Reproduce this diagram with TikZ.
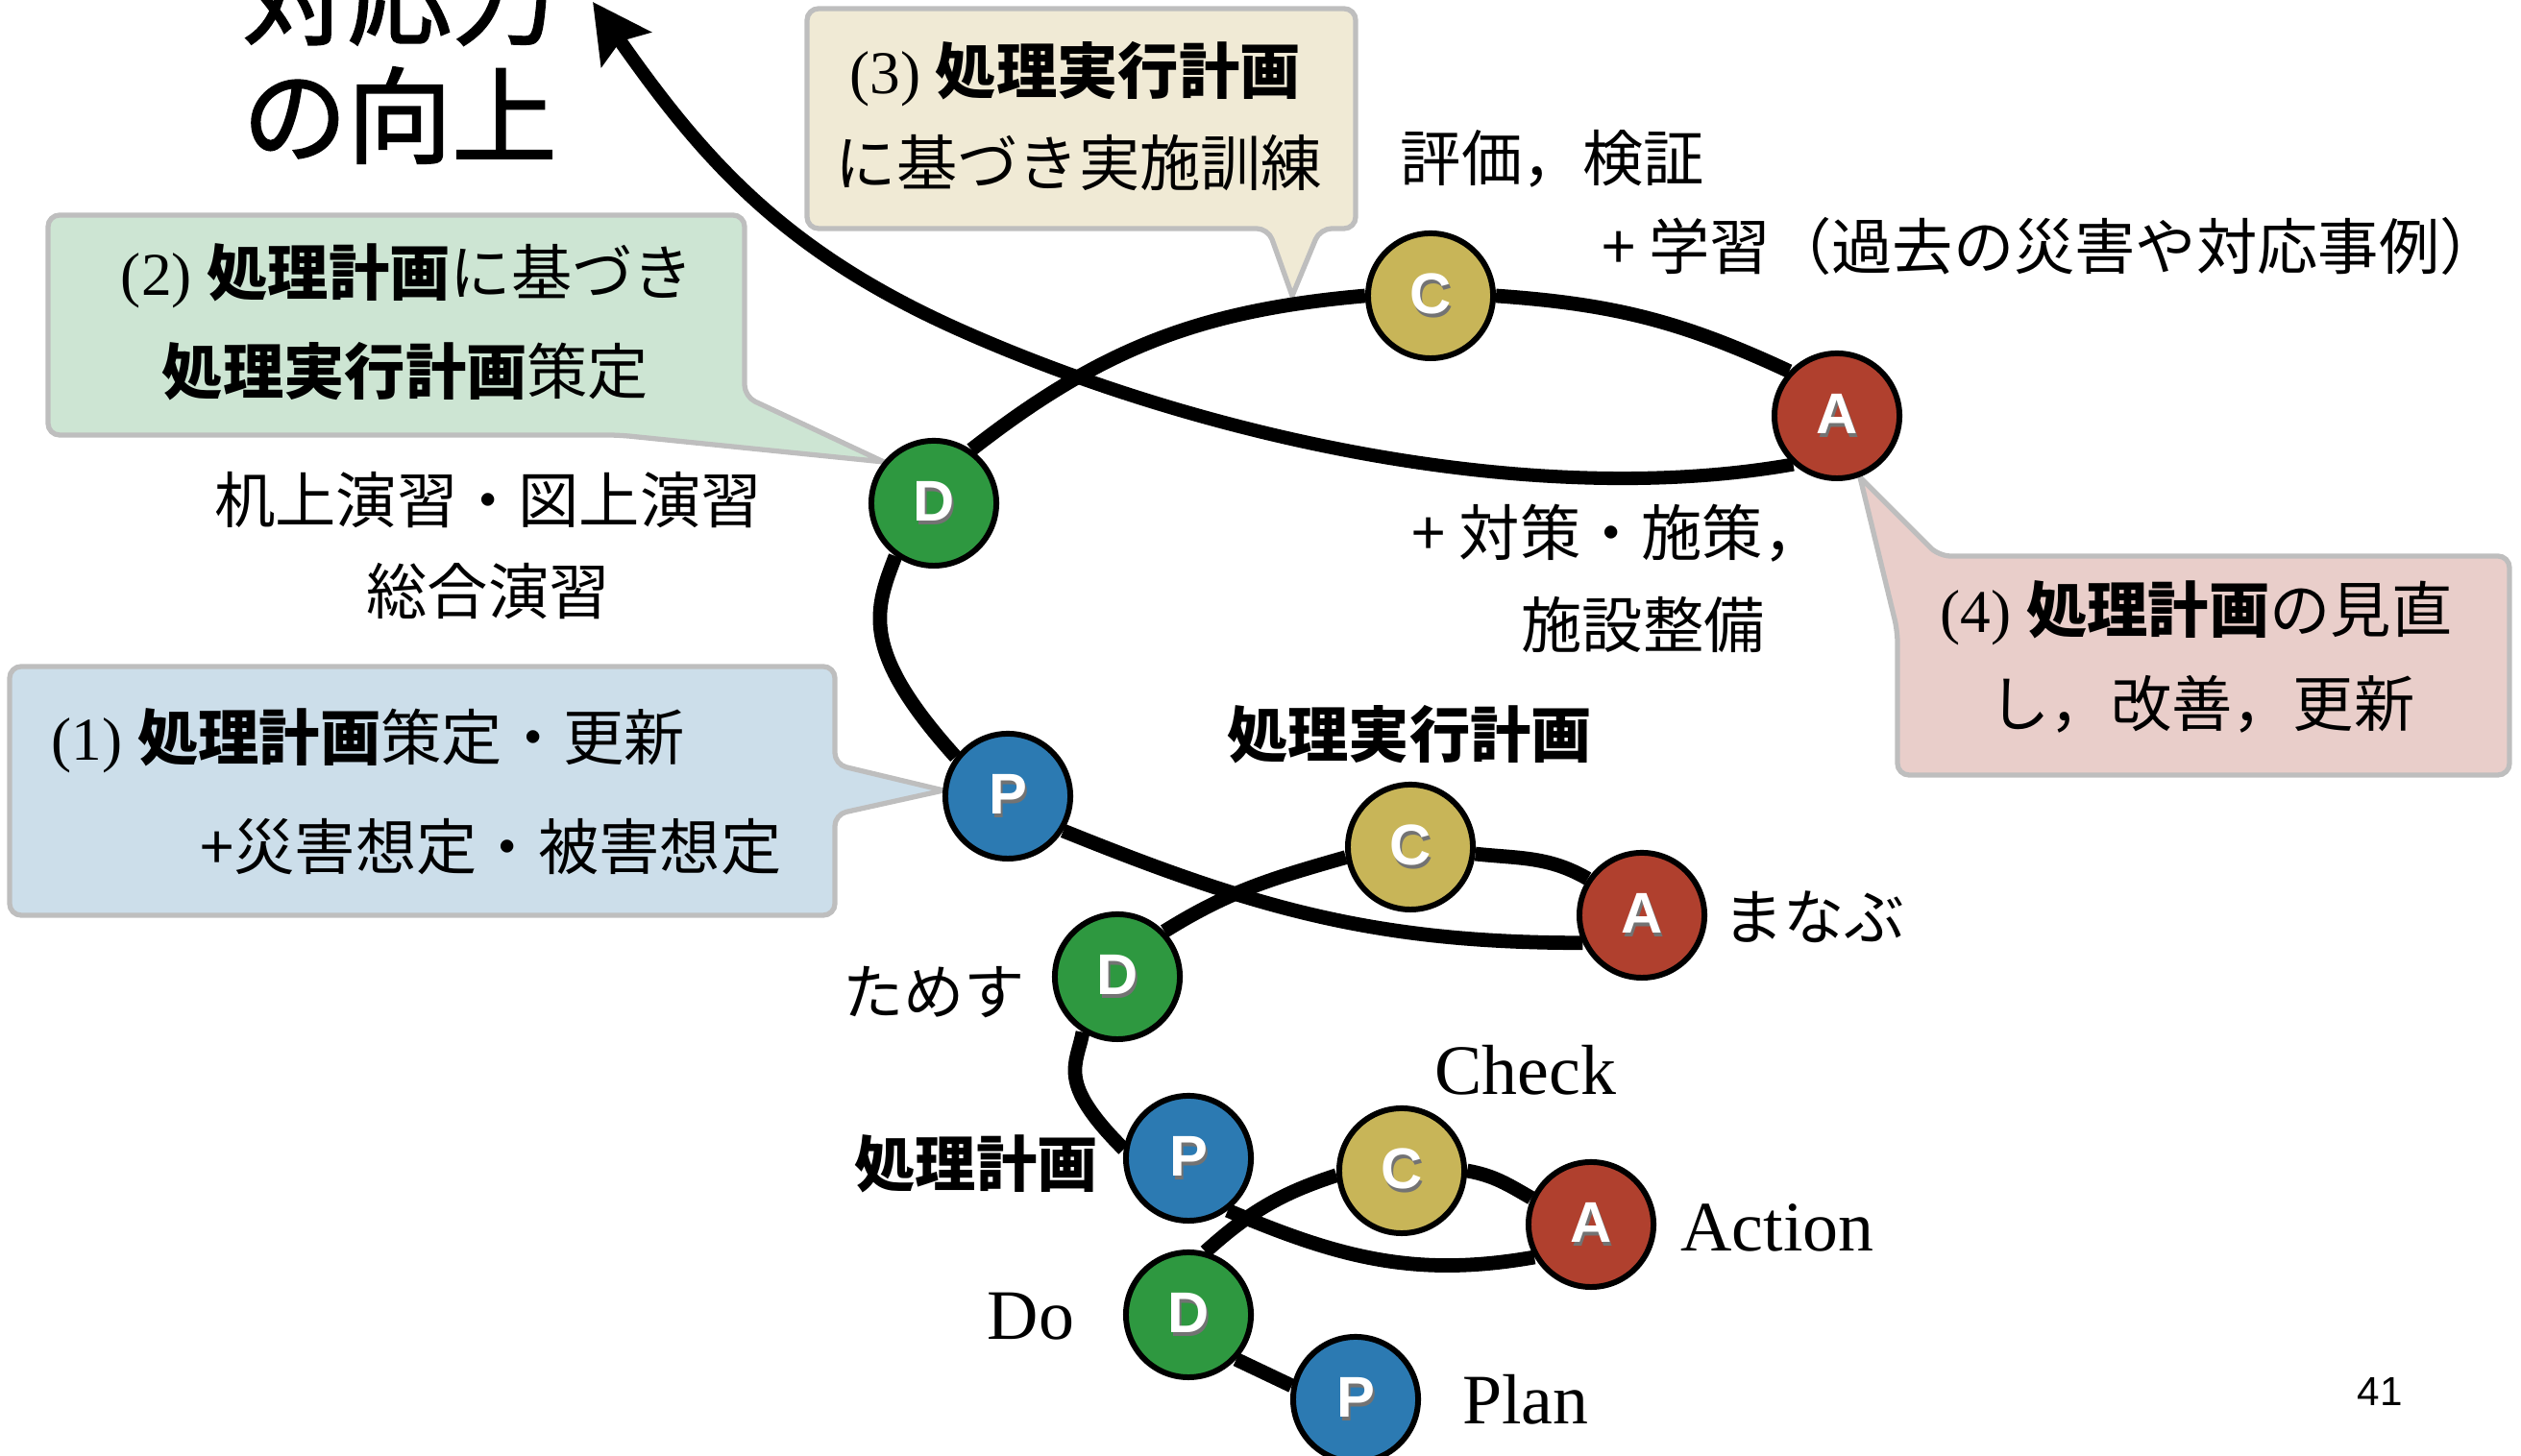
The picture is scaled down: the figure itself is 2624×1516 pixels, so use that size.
\documentclass[tikz,border=0pt]{standalone}
\usepackage{fontspec}
\setmainfont{Liberation Serif}
\newfontfamily\jp{Noto Sans CJK JP}
\newfontfamily\jpm[FakeBold=1.6]{Noto Sans CJK JP}
\newfontfamily\lsans{Liberation Sans}
\usetikzlibrary{arrows.meta}
\pgfdeclarelayer{bg}\pgfdeclarelayer{mid}\pgfsetlayers{bg,mid,main}
\definecolor{cP}{RGB}{44,122,178}
\definecolor{cD}{RGB}{46,152,64}
\definecolor{cC}{RGB}{200,181,88}
\definecolor{cA}{RGB}{176,64,46}
\definecolor{fb}{RGB}{204,222,234}
\definecolor{fg}{RGB}{205,229,211}
\definecolor{fy}{RGB}{240,234,213}
\definecolor{fr}{RGB}{233,206,202}
\definecolor{bd}{RGB}{190,190,190}
\newcommand\lettr[1]{\rlap{\raisebox{-1.2pt}{\kern0.7pt\textcolor{black!55}{#1}}}\textcolor{white}{#1}}
\newcommand\JB[1]{{\jp\bfseries #1}}
\newcommand\JR[1]{{\jp #1}}
\tikzset{
  cyc/.style={circle, draw=black, line width=1.7pt, minimum size=1.3cm, inner sep=0pt,
    font=\lsans\bfseries\fontsize{17}{17}\selectfont},
  pn/.style={cyc, fill=cP}, dn/.style={cyc, fill=cD},
  cn/.style={cyc, fill=cC}, an/.style={cyc, fill=cA},
  sp/.style={line width=4.2pt, black},
  callout/.style={draw=bd, line width=1.5pt, rounded corners=0.12cm},
  jl/.style={font=\jp\fontsize{18}{22}\selectfont, inner sep=0pt},
  bt/.style={font=\fontsize{18}{22}\selectfont, inner sep=0pt},
  ll/.style={font=\fontsize{21}{24}\selectfont, inner sep=0pt},
  title/.style={font=\jpm\fontsize{31}{34}\selectfont, inner sep=0pt}
}
\begin{document}
\begin{tikzpicture}[x=0.01cm,y=0.01cm]
\useasboundingbox (0,0) rectangle (2624,1516);
% callout boxes
\begin{pgfonlayer}{bg}
\draw[callout, fill=fb] (10,822) -- (869,822) -- (869,720) [sharp corners] -- (982,693) [rounded corners=0.12cm] -- (869,668) -- (869,563) -- (10,563) -- cycle;
\draw[callout, fill=fg] (50,1292) -- (775,1292) -- (775,1103) [sharp corners] -- (920,1035) [rounded corners=0.12cm] -- (644,1063) -- (50,1063) -- cycle;
\draw[callout, fill=fy] (840,1507) -- (1411,1507) -- (1411,1278) -- (1374,1278) [sharp corners] -- (1345,1208) [rounded corners=0.12cm] -- (1320,1278) -- (840,1278) -- cycle;
\draw[callout, fill=fr] (2018,937) -- (2612,937) -- (2612,709) -- (1975,709) -- (1975,859) [sharp corners] -- (1936,1019) [rounded corners=0.12cm] -- cycle;
\end{pgfonlayer}
% cycle nodes
\node[pn] (P1) at (1411,59) {\lettr{P}};
\node[dn] (D1) at (1237,147) {\lettr{D}};
\node[cn] (C1) at (1459,297) {\lettr{C}};
\node[an] (A1) at (1656,241) {\lettr{A}};
\node[pn] (P2) at (1237,310) {\lettr{P}};
\node[dn] (D2) at (1163,499) {\lettr{D}};
\node[cn] (C2) at (1468,634) {\lettr{C}};
\node[an] (A2) at (1709,563) {\lettr{A}};
\node[pn] (P3) at (1049,687) {\lettr{P}};
\node[dn] (D3) at (972,992) {\lettr{D}};
\node[cn] (C3) at (1489,1208) {\lettr{C}};
\node[an] (A3) at (1912,1083) {\lettr{A}};
\coordinate (am) at (1000,1172);
\coordinate (tip) at (617,1514);
% spiral
\begin{pgfonlayer}{mid}
\draw[sp] (D1.-43) -- (P1.168);
\draw[sp] (D1.75) to[out=42,in=198] (C1.184);
\draw[sp] (C1.0) to[out=-10,in=150] (A1.156);
\draw[sp] (A1.210) to[out=190,in=-23] (P2.-53);
\draw[sp] (P2.172) .. controls +(135:100) and +(260:35) .. (D2.-122);
\draw[sp] (D2.44) to[out=32,in=196] (C2.189);
\draw[sp] (C2.-6) to[out=-6,in=150] (A2.146);
\draw[sp] (A2.205) to[out=180,in=-22] (P3.-32);
\draw[sp] (P3.143) .. controls +(132:150) and +(-111:60) .. (D3.-126);
\draw[sp] (D3.55) to[out=38,in=185] (C3.180);
\draw[sp] (C3.0) to[out=-4,in=155] (A3.137);
\draw[sp, line width=4pt, -{Stealth[length=0.6cm,width=0.62cm,inset=0.1cm]}]
  (A3.228) to[out=190,in=-24,looseness=0.8] (am) to[out=156,in=-55] (tip);
\end{pgfonlayer}
% title
\node[title] (t1) at (416,1519) {対応力};
\node[title] (t2) at (416,1396) {の向上};
% box texts
\node[bt, anchor=west] (b1a) at (53,745) {(1) \JB{処理計画}\JR{策定・更新}};
\node[jl, anchor=east] (b1b) at (814,634) {+災害想定・被害想定};
\node[bt] (b2a) at (424,1229) {(2) \JB{処理計画}\JR{に基づき}};
\node[bt] (b2b) at (422,1129) {\JB{処理実行計画}\JR{策定}};
\node[bt] (b3a) at (1119,1439) {(3) \JB{処理実行計画}};
\node[bt] (b3b) at (1123,1346) {\JR{に基づき実施訓練}};
\node[bt] (b4a) at (2286,878) {(4) \JB{処理計画}\JR{の見直}};
\node[bt] (b4b) at (2292,783) {\JR{し，改善，更新}};
% labels
\node[jl] (l1) at (1616,1351) {評価，検証};
\node[jl] (l2) at (2135,1260) {+ 学習（過去の災害や対応事例）};
\node[jl] (l3) at (1684,961) {+ 対策・施策，};
\node[jl] (l4) at (1710,866) {施設整備};
\node[jl] (l5) at (508,995) {机上演習・図上演習};
\node[jl] (l6) at (508,900) {総合演習};
\node[jl, font=\jp\bfseries\fontsize{18}{22}\selectfont] (l7) at (1467,751) {処理実行計画};
\node[jl] (l8) at (1888,561) {まなぶ};
\node[jl] (l9) at (972,483) {ためす};
\node[jl, font=\jp\bfseries\fontsize{18}{22}\selectfont] (l10) at (1016,304) {処理計画};
\node[ll] (l11) at (1588,402) {Check};
\node[ll] (l12) at (1850,238) {Action};
\node[ll] (l13) at (1073,145) {Do};
\node[ll] (l14) at (1588,59) {Plan};
\node[font=\lsans\fontsize{12}{12}\selectfont, inner sep=0pt] (pg) at (2477,67) {41};
\end{tikzpicture}
\end{document}
